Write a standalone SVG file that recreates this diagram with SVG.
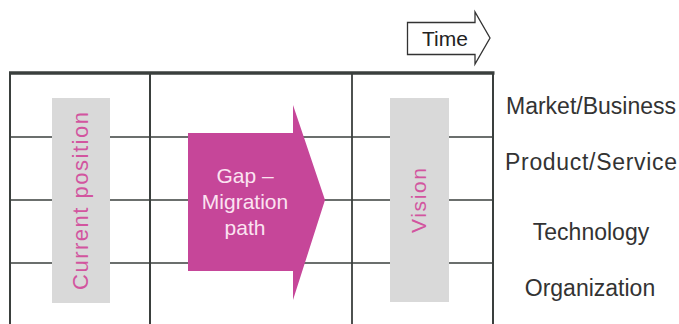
<svg xmlns="http://www.w3.org/2000/svg" width="679" height="324" viewBox="0 0 679 324">
  <style>
    .grid { stroke: #3a3f3d; fill: none; }
    .bar { fill: #d9d9d9; }
    .vtxt { font-family: "Liberation Sans", Arial, sans-serif; fill: #d2559f; text-anchor: middle; }
    .row { font-family: "Liberation Sans", Arial, sans-serif; font-size: 23px; fill: #333333; text-anchor: middle; }
    .gap { font-family: "Liberation Sans", Arial, sans-serif; font-size: 21px; fill: #fbe3f1; text-anchor: middle; }
  </style>
  <rect width="679" height="324" fill="#ffffff"/>

  <g id="grid">
    <line class="grid" x1="10" y1="137" x2="493" y2="137" stroke-width="1.6"/>
    <line class="grid" x1="10" y1="200" x2="493" y2="200" stroke-width="1.6"/>
    <line class="grid" x1="10" y1="263" x2="493" y2="263" stroke-width="1.6"/>
    <line class="grid" x1="10" y1="73" x2="10" y2="324" stroke-width="2"/>
    <line class="grid" x1="150" y1="73" x2="150" y2="324" stroke-width="2"/>
    <line class="grid" x1="352" y1="73" x2="352" y2="324" stroke-width="1.8"/>
    <line class="grid" x1="493" y1="73" x2="493" y2="324" stroke-width="2"/>
    <line class="grid" x1="9" y1="73" x2="494.5" y2="73" stroke-width="3.5" stroke="#2f3432"/>
  </g>

  <g id="current-position">
    <rect class="bar" x="52" y="98" width="58" height="205"/>
    <text class="vtxt" font-size="22" transform="translate(88,201) rotate(-90)" x="0" y="0" textLength="178" lengthAdjust="spacing">Current position</text>
  </g>

  <g id="gap-migration">
    <polygon points="188,133 293,133 293,105 325,200 293,300 293,271 188,271" fill="#c64699"/>
    <text class="gap" x="245" y="183">Gap –</text>
    <text class="gap" x="245" y="209">Migration</text>
    <text class="gap" x="245" y="235">path</text>
  </g>

  <g id="vision">
    <rect class="bar" x="390" y="98" width="59" height="204"/>
    <text class="vtxt" font-size="21" transform="translate(425.5,200.5) rotate(-90)" x="0" y="0" textLength="65" lengthAdjust="spacing">Vision</text>
  </g>

  <g id="time">
    <polygon points="407.5,22.5 475,22.5 475,12 490,38 475,64 475,54.5 407.5,54.5" fill="#ffffff" stroke="#333333" stroke-width="1.3"/>
    <text x="445" y="46" font-family="Liberation Sans, Arial, sans-serif" font-size="21" fill="#222222" text-anchor="middle">Time</text>
  </g>

  <g id="labels">
    <text class="row" x="591" y="114">Market/Business</text>
    <text class="row" x="591" y="170" textLength="172" lengthAdjust="spacing">Product/Service</text>
    <text class="row" x="591" y="240">Technology</text>
    <text class="row" x="590" y="296">Organization</text>
  </g>
</svg>
